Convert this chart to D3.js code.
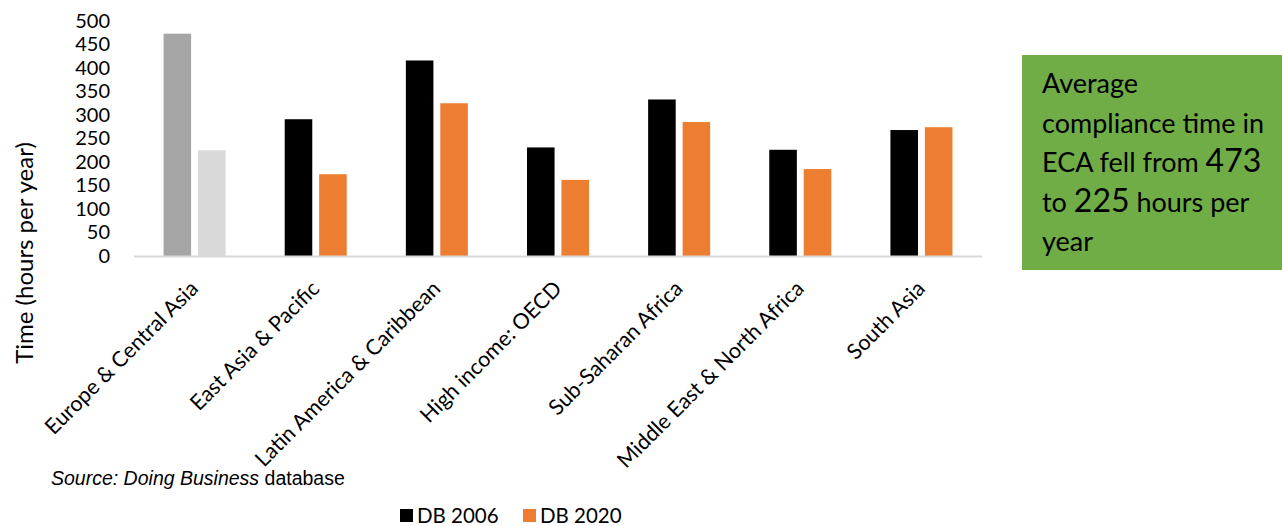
<!DOCTYPE html>
<html>
<head>
<meta charset="utf-8">
<script src="https://cdn.jsdelivr.net/npm/d3@7/dist/d3.min.js"></script>
<style>
  html, body { margin: 0; padding: 0; background: #fff; }
  svg { display: block; }
  text { font-family: Lato, "Noto Sans", sans-serif; fill: #000; }
</style>
</head>
<body>
<svg id="chart" width="1282" height="526"></svg>
<script>
// Regions and compliance time (hours per year)
const categories = [
  "Europe & Central Asia",
  "East Asia & Pacific",
  "Latin America & Caribbean",
  "High income: OECD",
  "Sub-Saharan Africa",
  "Middle East & North Africa",
  "South Asia"
];
const seriesNames = ["DB 2006", "DB 2020"];
const db2006 = [473, 291, 416, 231, 333, 226, 268];
const db2020 = [225, 174, 325, 162, 285, 185, 274];
const yTicks = [0, 50, 100, 150, 200, 250, 300, 350, 400, 450, 500];

const seriesColors = ["#000000", "#ed7d31"];
const highlightColors = ["#a5a5a5", "#d9d9d9"]; // Europe & Central Asia pair

const svg = d3.select("#chart");

const plot = { left: 134, right: 982, top: 21, bottom: 256 };

const x0 = d3.scaleBand()
  .domain(categories)
  .range([plot.left, plot.right])
  .paddingInner(0.488)
  .paddingOuter(0.244);

const x1 = d3.scaleBand()
  .domain(seriesNames)
  .range([0, x0.bandwidth()])
  .paddingInner(0.2);

const y = d3.scaleLinear().domain([0, 500]).range([plot.bottom, plot.top]);

const rows = categories.map((c, i) => ({
  category: c,
  values: [db2006[i], db2020[i]],
  highlight: i === 0
}));

// Bars
const groups = svg.append("g").selectAll("g")
  .data(rows)
  .join("g")
  .attr("transform", d => `translate(${x0(d.category)},0)`);

groups.selectAll("rect")
  .data(d => d.values.map((v, j) => ({ v, j, highlight: d.highlight })))
  .join("rect")
  .attr("x", d => x1(seriesNames[d.j]))
  .attr("width", x1.bandwidth())
  .attr("y", d => y(d.v))
  .attr("height", d => y(0) - y(d.v))
  .attr("fill", d => d.highlight ? highlightColors[d.j] : seriesColors[d.j]);

// Baseline
svg.append("line")
  .attr("x1", plot.left).attr("x2", plot.right)
  .attr("y1", y(0) + 0.5).attr("y2", y(0) + 0.5)
  .attr("stroke", "#d9d9d9").attr("stroke-width", 2);

// Y axis labels
const yAxis = svg.append("g")
  .attr("transform", `translate(${plot.left},0)`)
  .call(d3.axisLeft(y).tickValues(yTicks).tickSize(0).tickPadding(24));
yAxis.select(".domain").remove();
yAxis.selectAll("text")
  .style("font-family", "Lato, 'Noto Sans', sans-serif")
  .style("font-size", "20px")
  .attr("fill", "#000");

// Y axis title
svg.append("text")
  .attr("transform", "translate(33,253) rotate(-90)")
  .attr("text-anchor", "middle")
  .style("font-size", "24px")
  .text("Time (hours per year)");

// Category labels, slanted
svg.append("g").selectAll("text")
  .data(categories)
  .join("text")
  .attr("text-anchor", "end")
  .attr("transform", d => `translate(${x0(d) + x0.bandwidth() / 2 + 5},${plot.bottom + 34}) rotate(-45)`)
  .style("font-size", "21.5px")
  .text(d => d);

// Source note
const src = svg.append("text")
  .attr("x", 51).attr("y", 485)
  .style("font-family", "'Liberation Sans', Arial, sans-serif")
  .style("font-size", "19.5px")
  .attr("fill", "#999999");
src.append("tspan").style("font-style", "italic").text("Source: Doing Business");
src.append("tspan").text(" database");

// Legend
const legend = svg.append("g").selectAll("g")
  .data(seriesNames)
  .join("g")
  .attr("transform", (d, i) => `translate(${400 + i * 123},509)`);
legend.append("rect")
  .attr("width", 13).attr("height", 13)
  .attr("fill", (d, i) => seriesColors[i]);
legend.append("text")
  .attr("x", 17).attr("y", 13.5)
  .style("font-size", "20.5px")
  .text(d => d);

// Call-out box
svg.append("rect")
  .attr("x", 1022).attr("y", 55)
  .attr("width", 262).attr("height", 215)
  .attr("fill", "#70ad47");

const boxLines = [
  [["Average", false]],
  [["compliance time in", false]],
  [["ECA fell from ", false], [String(db2006[0]), true]],
  [["to ", false], [String(db2020[0]), true], [" hours per", false]],
  [["year", false]]
];
const boxText = svg.append("g");
boxLines.forEach((parts, i) => {
  const t = boxText.append("text")
    .attr("x", 1042)
    .attr("y", 93 + i * 39.5)
    .style("font-size", "27px");
  parts.forEach(([s, big]) => {
    t.append("tspan").style("font-size", big ? "32px" : "27px").text(s);
  });
});
</script>
</body>
</html>
